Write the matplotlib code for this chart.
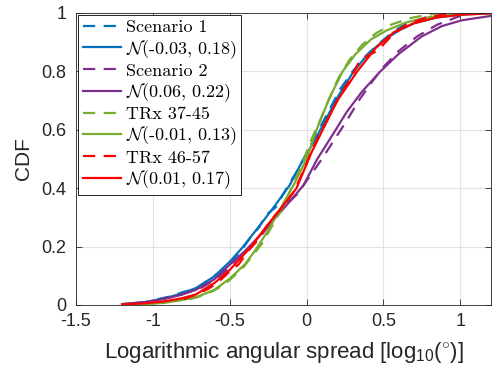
import numpy as np
import matplotlib
matplotlib.use('Agg')
import matplotlib.pyplot as plt

# colours (MATLAB style)
c_blue = '#0072BD'
c_purple = '#7E2F8E'
c_green = '#77AC30'
c_red = '#FF0000'

labels = ['Scenario 1', r'$\mathcal{N}$(-0.03, 0.18)',
          'Scenario 2', r'$\mathcal{N}$(0.06, 0.22)',
          'TRx 37-45', r'$\mathcal{N}$(-0.01, 0.13)',
          'TRx 46-57', r'$\mathcal{N}$(0.01, 0.17)']

sc1_x = [-0.97, -0.88, -0.80, -0.72, -0.64, -0.56, -0.49, -0.42, -0.36, -0.31, -0.26, -0.20, -0.13,
         -0.06, 0.01, 0.08, 0.15, 0.22, 0.30, 0.38, 0.46, 0.55, 0.65, 0.78, 0.95]
sc1_y = [0.02, 0.03, 0.045, 0.055, 0.085, 0.115, 0.15, 0.19, 0.235, 0.265, 0.31, 0.335, 0.40,
         0.46, 0.53, 0.60, 0.67, 0.74, 0.80, 0.85, 0.89, 0.93, 0.965, 0.985, 1.0]

sc2_x = [-0.95, -0.85, -0.76, -0.68, -0.60, -0.52, -0.45, -0.38, -0.30, -0.22, -0.14, -0.06, 0.02,
         0.10, 0.18, 0.26, 0.34, 0.42, 0.50, 0.60, 0.72, 0.85, 1.0]
sc2_y = [0.02, 0.03, 0.045, 0.06, 0.085, 0.12, 0.16, 0.19, 0.235, 0.29, 0.34, 0.38, 0.44,
         0.50, 0.565, 0.63, 0.70, 0.76, 0.815, 0.87, 0.92, 0.96, 0.99]

trx1_x = [-0.76, -0.68, -0.60, -0.53, -0.47, -0.41, -0.35, -0.29, -0.23, -0.16, -0.09, -0.03, 0.03,
          0.09, 0.15, 0.21, 0.28, 0.36, 0.45, 0.55, 0.68, 0.85]
trx1_y = [0.02, 0.032, 0.05, 0.072, 0.10, 0.13, 0.17, 0.21, 0.265, 0.33, 0.41, 0.48, 0.565,
          0.635, 0.71, 0.78, 0.84, 0.89, 0.93, 0.96, 0.983, 1.0]

trx2_x = [-0.80, -0.72, -0.64, -0.57, -0.50, -0.44, -0.38, -0.32, -0.26, -0.20, -0.14, -0.08, -0.02,
          0.04, 0.10, 0.16, 0.22, 0.28, 0.34, 0.40, 0.46, 0.55, 0.65, 0.78, 0.95]
trx2_y = [0.02, 0.035, 0.055, 0.08, 0.115, 0.14, 0.185, 0.22, 0.27, 0.31, 0.345, 0.39, 0.46,
          0.535, 0.60, 0.66, 0.72, 0.77, 0.83, 0.855, 0.87, 0.92, 0.96, 0.985, 1.0]

# fitted normal CDFs (solid)
n1_x = [-1.20, -1.05, -0.93, -0.82, -0.72, -0.60, -0.50, -0.42, -0.32, -0.22, -0.11, -0.03, 0.05,
        0.12, 0.20, 0.30, 0.40, 0.50, 0.60, 0.70, 0.85, 1.00, 1.20]
n1_y = [0.003, 0.010, 0.022, 0.038, 0.058, 0.098, 0.148, 0.195, 0.262, 0.330, 0.410, 0.490, 0.560,
        0.630, 0.710, 0.795, 0.860, 0.905, 0.940, 0.965, 0.985, 0.994, 0.999]

n2_x = [-1.20, -1.05, -0.93, -0.82, -0.72, -0.60, -0.50, -0.40, -0.30, -0.20, -0.10, -0.02, 0.07,
        0.19, 0.26, 0.36, 0.48, 0.60, 0.75, 0.88, 1.01, 1.20]
n2_y = [0.003, 0.010, 0.020, 0.034, 0.052, 0.088, 0.138, 0.185, 0.240, 0.300, 0.360, 0.410, 0.500,
        0.600, 0.660, 0.730, 0.800, 0.860, 0.920, 0.955, 0.975, 0.990]

n3_x = [-1.20, -1.05, -0.93, -0.82, -0.72, -0.60, -0.50, -0.40, -0.33, -0.25, -0.16, -0.08, 0.00,
        0.065, 0.15, 0.235, 0.32, 0.42, 0.52, 0.65, 0.80, 1.00, 1.20]
n3_y = [0.001, 0.003, 0.007, 0.016, 0.026, 0.052, 0.090, 0.140, 0.190, 0.255, 0.340, 0.415, 0.500,
        0.600, 0.710, 0.800, 0.860, 0.910, 0.940, 0.968, 0.986, 0.996, 0.999]

n4_x = [-1.20, -1.05, -0.93, -0.82, -0.72, -0.60, -0.50, -0.43, -0.36, -0.26, -0.16, -0.065, 0.03,
        0.105, 0.20, 0.33, 0.45, 0.57, 0.70, 0.85, 1.00, 1.20]
n4_y = [0.002, 0.006, 0.012, 0.022, 0.036, 0.075, 0.120, 0.160, 0.200, 0.270, 0.335, 0.400, 0.520,
        0.600, 0.700, 0.800, 0.880, 0.935, 0.965, 0.985, 0.994, 0.999]

plt.rcParams['font.family'] = ['Liberation Sans', 'DejaVu Sans']
plt.rcParams['mathtext.fontset'] = 'custom'
plt.rcParams['mathtext.rm'] = 'Liberation Sans'
plt.rcParams['mathtext.it'] = 'Liberation Sans:italic'

fig = plt.figure(figsize=(4.98, 3.81), dpi=100)
ax = fig.add_axes([0.1526, 0.1995, 0.8333, 0.7664])

lw = 1.6
dash = (0, (5.5, 3.8))
ax.plot(sc1_x, sc1_y, color=c_blue, lw=lw, linestyle=dash, label=labels[0])
ax.plot(n1_x, n1_y, color=c_blue, lw=lw, label=labels[1])
ax.plot(sc2_x, sc2_y, color=c_purple, lw=lw, linestyle=dash, label=labels[2])
ax.plot(n2_x, n2_y, color=c_purple, lw=lw, label=labels[3])
ax.plot(trx1_x, trx1_y, color=c_green, lw=lw, linestyle=dash, label=labels[4])
ax.plot(n3_x, n3_y, color=c_green, lw=lw, label=labels[5])
ax.plot(trx2_x, trx2_y, color=c_red, lw=lw, linestyle=dash, label=labels[6])
ax.plot(n4_x, n4_y, color=c_red, lw=lw, label=labels[7])

ax.set_xlim(-1.5, 1.2)
ax.set_ylim(0, 1)
ax.set_xticks([-1.5, -1, -0.5, 0, 0.5, 1])
ax.set_xticklabels(['-1.5', '-1', '-0.5', '0', '0.5', '1'])
ax.set_yticks([0, 0.2, 0.4, 0.6, 0.8, 1])
ax.set_yticklabels(['0', '0.2', '0.4', '0.6', '0.8', '1'])
ax.grid(True, color='#e3e3e3', linewidth=0.8)
ax.set_axisbelow(True)
ax.tick_params(direction='in', top=True, right=True, length=4, width=0.6,
               labelsize=13, colors='#262626')
ax.tick_params(axis='y', pad=7)
ax.tick_params(axis='x', pad=6)
for s in ax.spines.values():
    s.set_linewidth(0.6)
    s.set_color('#262626')

ax.set_xlabel(r'Logarithmic angular spread [log$_{10}$($^{\circ}$)]', fontsize=16,
              color='#262626', labelpad=7)
ax.set_ylabel('CDF', fontsize=15, color='#262626', labelpad=6)

leg = ax.legend(loc='upper left', prop={'family': 'cmr10', 'size': 13},
                fancybox=False, edgecolor='black', framealpha=1,
                borderaxespad=0.12, handlelength=2.15, handletextpad=0.25,
                labelspacing=0.14, borderpad=0.25)
leg.get_frame().set_linewidth(0.6)
for t in leg.get_texts():
    t.set_math_fontfamily('cm')

fig.savefig('out.png', dpi=100)
